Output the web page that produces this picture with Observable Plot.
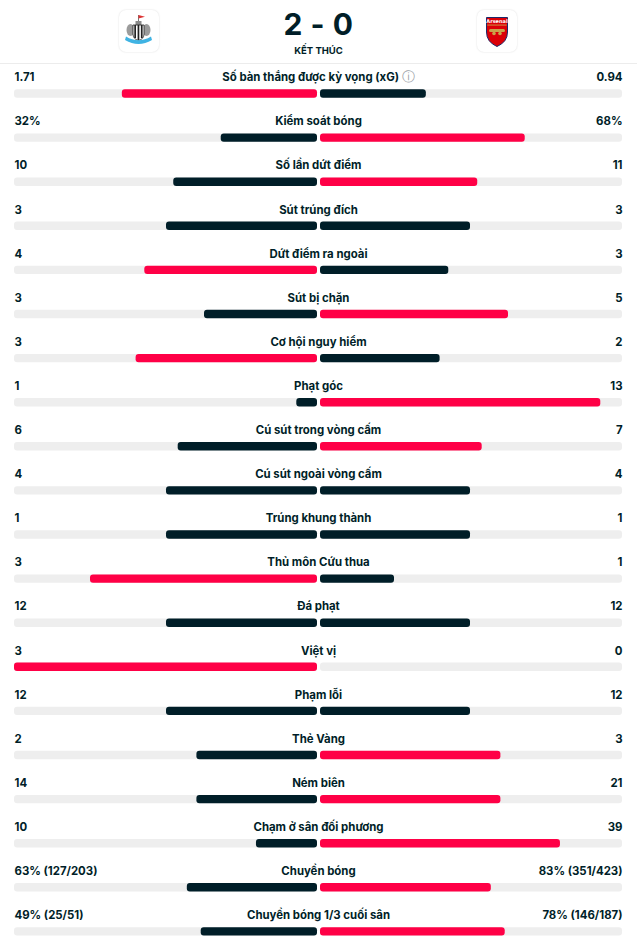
<!DOCTYPE html>
<html>
<head>
<meta charset="utf-8">
<script src="https://cdn.jsdelivr.net/npm/d3@7"></script>
<script src="https://cdn.jsdelivr.net/npm/@observablehq/plot@0.6"></script>
<style>
  body { margin: 0; background: #fff; font-family: Inter, "Noto Sans", sans-serif; color: #001e28; }
  #header { position: relative; width: 637px; height: 63px; border-bottom: 1px solid #ececec; }
  .logo { position: absolute; top: 10px; width: 40px; height: 42px; border-radius: 7px; background: #fff; box-shadow: 0 0 2px rgba(0,0,0,0.14); }
  #score { position: absolute; left: 0; width: 637px; top: 6px; text-align: center; font-size: 30px; font-weight: 700; letter-spacing: 0.5px; line-height: 36px; }
  #status { position: absolute; left: 0; width: 637px; top: 45px; text-align: center; font-size: 9.5px; font-weight: 700; line-height: 12px; }
  #chart svg { display: block; }
</style>
</head>
<body>
<div id="header">
  <div class="logo" style="left:119px">
    <svg width="40" height="42" viewBox="0 0 40 42">
      <line x1="19.5" y1="5" x2="19.5" y2="12" stroke="#555" stroke-width="0.8"/>
      <path d="M19.5 5 L26 6.8 L19.5 8.6 Z" fill="#d33"/>
      <rect x="16.5" y="11" width="6" height="4" fill="#8a8a8a"/>
      <ellipse cx="11.5" cy="20" rx="4" ry="6" fill="#9b9b9b"/>
      <ellipse cx="27.5" cy="20" rx="4" ry="6" fill="#9b9b9b"/>
      <path d="M14 15 H25 V24 Q25 29 19.5 30.5 Q14 29 14 24 Z" fill="#fff" stroke="#222" stroke-width="0.8"/>
      <rect x="15.3" y="15" width="1.7" height="13" fill="#222"/>
      <rect x="18.6" y="15" width="1.7" height="15" fill="#222"/>
      <rect x="21.9" y="15" width="1.7" height="13" fill="#222"/>
      <path d="M7 26.5 Q19.5 34 32 26.5 L33 30 Q19.5 38 6 30 Z" fill="#3fb3e3"/>
    </svg>
  </div>
  <div id="score">2 - 0</div>
  <div id="status">KẾT THÚC</div>
  <div class="logo" style="left:477px">
    <svg width="40" height="42" viewBox="0 0 40 42">
      <path d="M9.5 7.5 H30.5 V22 Q30.5 32 20 36.5 Q9.5 32 9.5 22 Z" fill="#db0007" stroke="#1c2a6b" stroke-width="1"/>
      <rect x="10.3" y="14.6" width="19.4" height="0.9" fill="#c9a44a"/>
      <text x="20" y="13.3" text-anchor="middle" font-size="5" font-weight="700" fill="#fff" font-family="DejaVu Sans">Arsenal</text>
      <rect x="12" y="19" width="16" height="3" rx="1.5" fill="#c9a44a"/>
      <circle cx="17" cy="23.5" r="1.8" fill="#c9a44a"/>
      <circle cx="23" cy="23.5" r="1.8" fill="#c9a44a"/>
    </svg>
  </div>
</div>
<div id="chart"></div>
<script>
const labels = [
  "Số bàn thắng được kỳ vọng (xG)", "Kiểm soát bóng", "Số lần dứt điểm", "Sút trúng đích",
  "Dứt điểm ra ngoài", "Sút bị chặn", "Cơ hội nguy hiểm", "Phạt góc",
  "Cú sút trong vòng cấm", "Cú sút ngoài vòng cấm", "Trúng khung thành", "Thủ môn Cứu thua",
  "Đá phạt", "Việt vị", "Phạm lỗi", "Thẻ Vàng",
  "Ném biên", "Chạm ở sân đối phương", "Chuyền bóng", "Chuyền bóng 1/3 cuối sân"
];
const leftText = ["1.71","32%","10","3","4","3","3","1","6","4","1","3","12","3","12","2","14","10","63% (127/203)","49% (25/51)"];
const rightText = ["0.94","68%","11","3","3","5","2","13","7","4","1","1","12","0","12","3","21","39","83% (351/423)","78% (146/187)"];
const leftValues = [1.71,32,10,3,4,3,3,1,6,4,1,3,12,3,12,2,14,10,63,49];
const rightValues = [0.94,68,11,3,3,5,2,13,7,4,1,1,12,0,12,3,21,39,83,78];
const infoLabels = ["Số bàn thắng được kỳ vọng (xG)"];

const RED = "#ff0046", DARK = "#001e28", TRACK = "#eeeeee";

const rows = labels.map((label, i) => {
  const l = leftValues[i], r = rightValues[i], s = l + r;
  return {
    label, lt: leftText[i], rt: rightText[i],
    lf: s ? l / s : 0, rf: s ? r / s : 0,
    lc: l > r ? "higher" : "other", rc: r > l ? "higher" : "other",
    text: infoLabels.includes(label) ? label + " \u24D8" : label
  };
});

const band = 44.1;
const barTop = 25.3, barBottom = band - 33.7;
const FS = 11.4;

const chart = Plot.plot({
  width: 637,
  height: 876,
  margin: 0,
  x: { domain: [-1, 1], range: [14, 622], axis: null },
  y: { domain: labels, range: [0, band * labels.length], padding: 0, round: false, axis: null },
  color: { domain: ["higher", "other"], range: [RED, DARK] },
  style: { fontFamily: "Inter, 'Noto Sans', sans-serif", color: DARK, background: "#fff" },
  marks: [
    Plot.rectX(rows, { x1: () => -1, x2: () => 0, y: "label", fill: TRACK, insetTop: barTop, insetBottom: barBottom, insetRight: 1, rx: 3 }),
    Plot.rectX(rows, { x1: () => 0, x2: () => 1, y: "label", fill: TRACK, insetTop: barTop, insetBottom: barBottom, insetLeft: 2, rx: 3 }),
    Plot.rectX(rows.filter(d => d.lf > 0), { x1: d => -d.lf, x2: () => 0, y: "label", fill: "lc", insetTop: barTop, insetBottom: barBottom, insetRight: 1, rx: 3 }),
    Plot.rectX(rows.filter(d => d.rf > 0), { x1: () => 0, x2: d => d.rf, y: "label", fill: "rc", insetTop: barTop, insetBottom: barBottom, insetLeft: 2, rx: 3 }),
    Plot.text(rows, { x: () => 0, y: "label", text: "text", lineAnchor: "bottom", dy: -5.3, fontSize: FS, fontWeight: 700, fill: DARK }),
    Plot.text(rows, { x: () => -1, y: "label", text: "lt", textAnchor: "start", lineAnchor: "bottom", dy: -5.3, fontSize: FS, fontWeight: 700, fill: DARK }),
    Plot.text(rows, { x: () => 1, y: "label", text: "rt", textAnchor: "end", lineAnchor: "bottom", dy: -5.3, fontSize: FS, fontWeight: 700, fill: DARK })
  ]
});
document.getElementById("chart").appendChild(chart);

// grey info icon
chart.querySelectorAll("text").forEach(t => {
  if (t.textContent.includes("\u24D8")) {
    const base = t.textContent.replace(" \u24D8", "");
    t.textContent = base + " ";
    const ts = document.createElementNS("http://www.w3.org/2000/svg", "tspan");
    ts.setAttribute("fill", "#9aa0a6");
    ts.setAttribute("font-weight", "400");
    ts.setAttribute("font-size", "13");
    ts.textContent = "\u24D8";
    t.appendChild(ts);
  }
});
</script>
</body>
</html>
